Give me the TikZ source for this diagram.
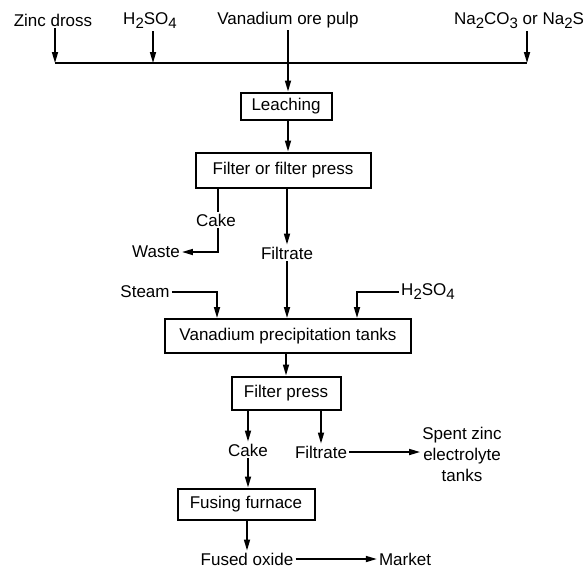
\documentclass[tikz,border=0pt]{standalone}
\usepackage{fontspec}
\setmainfont{Liberation Sans}
\usetikzlibrary{arrows.meta}
\newcommand\lowd[1]{\raisebox{-0.45ex}{\fontsize{15}{15}\selectfont #1}}
\begin{document}
\begin{tikzpicture}[x=1pt,y=-1pt,
  every node/.style={font=\fontsize{17}{21}\selectfont, inner sep=2pt},
  box/.style={draw, line width=2pt, inner sep=0pt, align=center},
  ln/.style={line width=1.6pt},
  arr/.style={line width=1.6pt, -{Triangle[length=11pt,width=6pt]}}]
\useasboundingbox (0,0) rectangle (585,571);
% top inputs
\node (zinc) at (53,20) {Zinc dross};
\node (h2a) at (150,21) {H\lowd{2}SO\lowd{4}};
\node (ore) at (288,20) {Vanadium ore pulp};
\node (na) at (519,21) {Na\lowd{2}CO\lowd{3} or Na\lowd{2}S};
\coordinate (j1) at (55,63);
\coordinate (j2) at (153,63);
\coordinate (j3) at (288,63);
\coordinate (j4) at (527,63);
\draw[ln] (j1) -- (j4);
\draw[arr] (zinc.south -| j1) -- (j1);
\draw[arr] (h2a.south -| j2) -- (j2);
\draw[arr] (na.south -| j4) -- (j4);
% boxes
\node[box, minimum width=91, minimum height=27] (leach) at (286,106) {Leaching};
\node[box, minimum width=175, minimum height=35] (filt) at (283,170) {Filter or filter press};
\node[box, minimum width=246, minimum height=34] (vpt) at (288,336) {Vanadium precipitation tanks};
\node[box, minimum width=109, minimum height=33] (fp) at (286,393) {Filter press};
\node[box, minimum width=137, minimum height=31] (fuse) at (246,504) {Fusing furnace};
\draw[arr] (ore.south) -- (ore.south |- leach.north);
\draw[arr] (leach.south -| j3) -- (filt.north -| j3);
% filter outputs
\node (cake1) at (216,220) {Cake};
\node (waste) at (156,252) {Waste};
\node (filtrate1) at (287,253) {Filtrate};
\coordinate (xc) at (218,0);
\draw[ln] (filt.south -| xc) -- (cake1.north -| xc);
\draw[arr] (cake1.south -| xc) |- (waste.east);
\draw[arr] (filt.south -| filtrate1) -- (filtrate1.north);
\draw[arr] (filtrate1.south) -- (filtrate1.south |- vpt.north);
% side inputs
\node (steam) at (145,292) {Steam};
\node (h2b) at (428,292) {H\lowd{2}SO\lowd{4}};
\coordinate (xs) at (217,0);
\coordinate (xh) at (357,0);
\draw[arr] (steam.east) -| (vpt.north -| xs);
\draw[arr] (h2b.west) -| (vpt.north -| xh);
\draw[arr] (vpt.south -| fp.north) -- (fp.north);
% filter press outputs
\node (cake2) at (248,450) {Cake};
\node (filtrate2) at (321,452) {Filtrate};
\node[align=center] (spent) at (462,454) {Spent zinc\\electrolyte\\tanks};
\draw[arr] (fp.south -| cake2) -- (cake2.north);
\draw[arr] (fp.south -| filtrate2) -- (filtrate2.north);
\draw[arr] (filtrate2.east) -- (filtrate2.east -| spent.west);
\draw[arr] (cake2.south) -- (cake2.south |- fuse.north);
% fusing outputs
\node (fused) at (247,559) {Fused oxide};
\node (market) at (405,559) {Market};
\draw[arr] (fuse.south -| fused) -- (fused.north);
\draw[arr] (fused.east) -- (market.west);
\end{tikzpicture}
\end{document}
